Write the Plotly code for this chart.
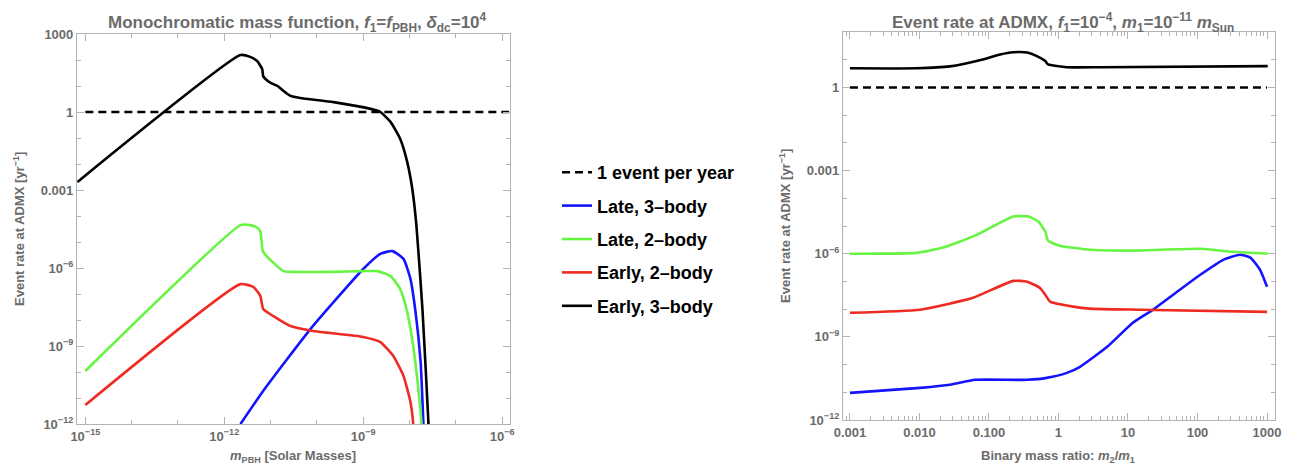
import plotly.graph_objects as go

# ---------------- data (log10 values) ----------------
# Left panel: x = log10(m_PBH / M_sun), y = log10(rate / yr)
L_black_x = [-15.17, -11.65, -11.44, -11.29, -11.18, -11.16, -11.11, -11.0, -10.85, -10.72, -10.57, -10.36, -9.64, -8.84, -8.63, -8.41, -8.20, -8.05, -7.94, -7.85, -7.72, -7.59, -7.57]
L_black_y = [-2.69, 2.19, 2.12, 1.96, 1.65, 1.38, 1.27, 1.12, 1.0, 0.81, 0.62, 0.54, 0.38, 0.12, 0.0, -0.38, -1.04, -1.92, -2.96, -4.38, -7.6, -12.0, -13.0]

L_green_x = [-15.0, -11.65, -11.44, -11.29, -11.22, -11.16, -10.72, -10.51, -9.71, -9.0, -8.69, -8.41, -8.20, -8.05, -7.92, -7.81, -7.74, -7.72]
L_green_y = [-9.96, -4.35, -4.35, -4.45, -4.6, -5.38, -6.12, -6.15, -6.15, -6.12, -6.12, -6.31, -6.81, -7.69, -9.0, -10.65, -12.0, -13.0]

L_red_x = [-15.0, -11.65, -11.37, -11.22, -11.16, -10.94, -10.57, -10.08, -9.0, -8.63, -8.35, -8.13, -7.98, -7.92, -7.90]
L_red_y = [-11.27, -6.62, -6.73, -7.08, -7.58, -7.85, -8.23, -8.42, -8.65, -8.85, -9.38, -10.15, -11.15, -12.0, -13.0]

L_blue_x = [-11.65, -11.16, -10.14, -9.0, -8.62, -8.37, -8.13, -7.98, -7.87, -7.76, -7.70, -7.68]
L_blue_y = [-12.0, -10.73, -8.35, -6.04, -5.45, -5.35, -5.65, -6.42, -7.69, -9.62, -12.0, -13.0]

L_dash_x = [-15.0, -5.85]
L_dash_y = [0.0, 0.0]

# Right panel: x = log10(m2/m1), y = log10(rate / yr)
R_black_x = [-3.0, -2.04, -1.56, -1.09, -0.84, -0.65, -0.45, -0.31, -0.19, -0.15, 0.12, 0.6, 3.01]
R_black_y = [0.69, 0.69, 0.76, 1.01, 1.19, 1.27, 1.26, 1.13, 0.95, 0.83, 0.73, 0.73, 0.77]

R_green_x = [-3.0, -2.04, -1.66, -1.17, -0.65, -0.43, -0.29, -0.19, -0.15, 0.02, 0.41, 1.07, 2.04, 2.51, 3.01]
R_green_y = [-6.0, -5.97, -5.78, -5.31, -4.66, -4.66, -4.84, -5.2, -5.53, -5.71, -5.85, -5.89, -5.82, -5.93, -6.0]

R_red_x = [-3.0, -1.99, -1.23, -0.65, -0.45, -0.27, -0.19, -0.12, 0.21, 0.45, 1.17, 3.0]
R_red_y = [-8.13, -8.02, -7.59, -6.98, -7.01, -7.23, -7.48, -7.73, -7.91, -7.98, -8.02, -8.10]

R_blue_x = [-3.0, -1.99, -1.56, -1.20, -0.45, -0.17, 0.12, 0.31, 0.70, 1.07, 1.36, 1.65, 2.04, 2.37, 2.61, 2.76, 2.90, 3.0]
R_blue_y = [-11.02, -10.84, -10.73, -10.55, -10.55, -10.48, -10.30, -10.08, -9.36, -8.49, -8.02, -7.48, -6.76, -6.22, -6.04, -6.14, -6.58, -7.19]

R_dash_x = [-3.0, 3.0]
R_dash_y = [0.0, 0.0]

# Tick labels
L_xtick_exp = [-15, -12, -9, -6]
L_ytick_exp = [3, 0, -3, -6, -9, -12]
L_ytick_text = ["1000", "1", "0.001", "10<sup>−6</sup>", "10<sup>−9</sup>", "10<sup>−12</sup>"]
R_xtick_exp = [-3, -2, -1, 0, 1, 2, 3]
R_xtick_text = ["0.001", "0.010", "0.100", "1", "10", "100", "1000"]
R_ytick_exp = [0, -3, -6, -9, -12]
R_ytick_text = ["1", "0.001", "10<sup>−6</sup>", "10<sup>−9</sup>", "10<sup>−12</sup>"]

legend_names = ["1 event per year", "Late, 3\u2013body", "Late, 2\u2013body", "Early, 2\u2013body", "Early, 3\u2013body"]

# ---------------- helpers ----------------
def p(v):
    return [10.0 ** a for a in v]

BLUE = "#1414ff"
GREEN = "#66f542"
RED = "#ee2b23"
BLACK = "#000000"
GRAY = "#6b6b6b"
FRAME = "#b4b4b4"
LW = 2.6

# page has an 8px body margin: figure coords = screen coords - 8
W, H = 1290, 460
OFF = 8
def px(xs):
    return (xs - OFF) / W
def py(ys):
    return 1 - (ys - OFF) / H

fig = go.Figure()

series = [
    (L_dash_x, L_dash_y, R_dash_x, R_dash_y, BLACK, "8px,5px", legend_names[0]),
    (L_blue_x, L_blue_y, R_blue_x, R_blue_y, BLUE, "solid", legend_names[1]),
    (L_green_x, L_green_y, R_green_x, R_green_y, GREEN, "solid", legend_names[2]),
    (L_red_x, L_red_y, R_red_x, R_red_y, RED, "solid", legend_names[3]),
    (L_black_x, L_black_y, R_black_x, R_black_y, BLACK, "solid", legend_names[4]),
]

for i, (lx, ly, rx, ry, col, dash, name) in enumerate(series):
    shape = "linear" if dash != "solid" else "spline"
    fig.add_trace(go.Scatter(x=p(lx), y=p(ly), mode="lines", name=name,
                             line=dict(color=col, width=LW, dash=dash, shape=shape, smoothing=0.5),
                             legendgroup=f"g{i}", showlegend=True,
                             xaxis="x", yaxis="y"))
    fig.add_trace(go.Scatter(x=p(rx), y=p(ry), mode="lines", name=name,
                             line=dict(color=col, width=LW, dash=dash, shape=shape, smoothing=0.5),
                             legendgroup=f"g{i}", showlegend=False,
                             xaxis="x2", yaxis="y2"))

tickfont = dict(family="Liberation Sans", size=13, color=GRAY, weight="bold")
titlefont = dict(family="Liberation Sans", size=13, color=GRAY, weight="bold")
headfont = dict(family="Liberation Sans", size=17, color=GRAY, weight="bold")

def sup_exp(e):
    return f"10<sup>−{-e}</sup>" if e < 0 else f"10<sup>{e}</sup>"

L_minor_x = [10.0 ** e for e in range(-15, -5) if e not in L_xtick_exp]
L_minor_y = [10.0 ** e for e in range(-12, 4) if e not in L_ytick_exp]
R_minor_x = [k * 10.0 ** e for e in range(-4, 4) for k in range(2, 10) if 10 ** -3.1 < k * 10.0 ** e < 10 ** 3.11]
R_minor_y = [10.0 ** e for e in range(-12, 3) if e not in R_ytick_exp]

common = dict(type="log", showgrid=False, zeroline=False, showline=True, linecolor=FRAME,
              linewidth=1.2, mirror="ticks", ticks="inside", ticklen=7, tickcolor=FRAME,
              tickwidth=1, tickfont=tickfont, automargin=False)

def label(text, xs, ys, angle=0, font=titlefont, yanchor="middle"):
    return dict(text=text, xref="paper", yref="paper", x=px(xs), y=py(ys),
                xanchor="center", yanchor=yanchor, textangle=angle,
                showarrow=False, font=font)

fig.update_layout(
    width=W, height=H,
    margin=dict(l=0, r=0, t=0, b=0, autoexpand=False),
    paper_bgcolor="white", plot_bgcolor="white",
    font=dict(family="Liberation Sans"),
    showlegend=True,
    legend=dict(x=px(557), y=py(154), xanchor="left", yanchor="top",
                font=dict(family="Liberation Sans", size=18, color="black", weight="bold"),
                tracegroupgap=7, bgcolor="rgba(0,0,0,0)"),
    xaxis=dict(common, domain=[px(77), px(510)], range=[-15.18, -5.83],
               tickvals=[10.0 ** e for e in L_xtick_exp],
               ticktext=[sup_exp(e) for e in L_xtick_exp],
               minor=dict(tickvals=L_minor_x, ticklen=4, tickcolor=FRAME, ticks="inside"),
               anchor="y"),
    yaxis=dict(common, domain=[py(424), py(34)], range=[-12, 3],
               tickvals=[10.0 ** e for e in L_ytick_exp],
               ticktext=L_ytick_text,
               minor=dict(tickvals=L_minor_y, ticklen=4, tickcolor=FRAME, ticks="inside"),
               anchor="x"),
    xaxis2=dict(common, domain=[px(843), px(1275)], range=[-3.1, 3.115],
                tickvals=[10.0 ** e for e in R_xtick_exp],
                ticktext=R_xtick_text,
                minor=dict(tickvals=R_minor_x, ticklen=4, tickcolor=FRAME, ticks="inside"),
                anchor="y2"),
    yaxis2=dict(common, domain=[py(420), py(32)], range=[-12, 2],
                tickvals=[10.0 ** e for e in R_ytick_exp],
                ticktext=R_ytick_text,
                minor=dict(tickvals=R_minor_y, ticklen=4, tickcolor=FRAME, ticks="inside"),
                anchor="x2"),
    annotations=[
        label("Monochromatic mass function, <i>f</i><sub>1</sub>=<i>f</i><sub>PBH</sub>, <i>δ</i><sub>dc</sub>=10<sup>4</sup>",
              297, 8, font=headfont, yanchor="top"),
        label("Event rate at ADMX, <i>f</i><sub>1</sub>=10<sup>−4</sup>, <i>m</i><sub>1</sub>=10<sup>−11</sup> <i>m</i><sub>Sun</sub>",
              1063, 8, font=headfont, yanchor="top"),
        label("<i>m</i><sub>PBH</sub> [Solar Masses]", 293, 467, yanchor="bottom"),
        label("Binary mass ratio: <i>m</i><sub>2</sub>/<i>m</i><sub>1</sub>", 1058, 467, yanchor="bottom"),
        label("Event rate at ADMX [yr<sup>−1</sup>]", 19, 229, angle=-90),
        label("Event rate at ADMX [yr<sup>−1</sup>]", 785, 226, angle=-90),
    ],
)

fig.write_html("out.html")
